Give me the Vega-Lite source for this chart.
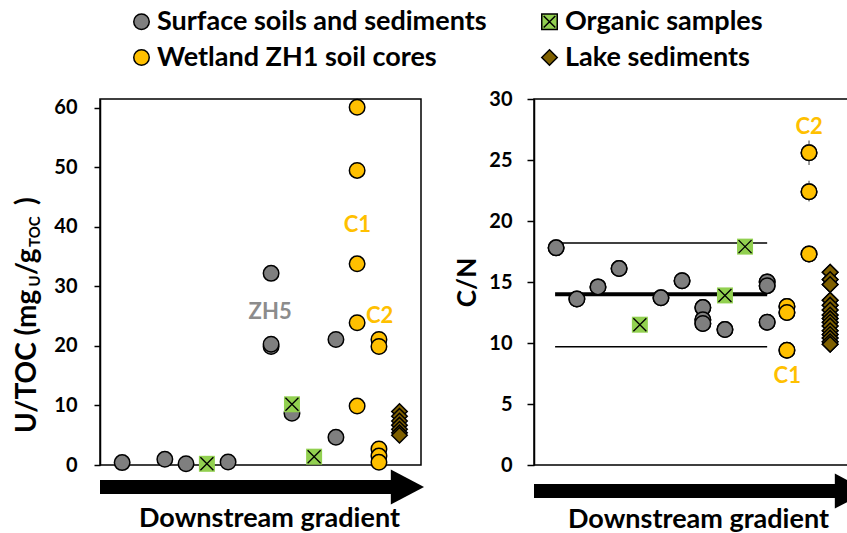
{
  "$schema": "https://vega.github.io/schema/vega-lite/v6.json",
  "padding": {"left": 13, "top": 8, "right": 0, "bottom": 0},
  "background": "white",
  "config": {
    "font": "Lato",
    "view": {"stroke": "black", "strokeWidth": 1.5},
    "axis": {"labelFont": "Lato", "labelFontWeight": "bold", "labelFontSize": 20, "labelColor": "black", "titleFont": "Lato", "titleFontWeight": "bold", "titleColor": "black", "grid": false, "domainColor": "black", "tickColor": "black", "domainWidth": 1.5, "tickWidth": 1.5}
  },
  "datasets": {
    "u": [
      {"pos": 6.9, "val": 0.4, "grp": "Surface soils and sediments"},
      {"pos": 20.2, "val": 0.95, "grp": "Surface soils and sediments"},
      {"pos": 26.8, "val": 0.2, "grp": "Surface soils and sediments"},
      {"pos": 39.9, "val": 0.5, "grp": "Surface soils and sediments"},
      {"pos": 53.3, "val": 32.2, "grp": "Surface soils and sediments"},
      {"pos": 53.3, "val": 19.9, "grp": "Surface soils and sediments"},
      {"pos": 53.3, "val": 20.3, "grp": "Surface soils and sediments"},
      {"pos": 59.8, "val": 8.7, "grp": "Surface soils and sediments"},
      {"pos": 73.5, "val": 21.1, "grp": "Surface soils and sediments"},
      {"pos": 73.5, "val": 4.65, "grp": "Surface soils and sediments"},
      {"pos": 33.3, "val": 0.2, "grp": "Organic samples"},
      {"pos": 59.8, "val": 10.2, "grp": "Organic samples"},
      {"pos": 66.7, "val": 1.4, "grp": "Organic samples"},
      {"pos": 80.1, "val": 60.1, "grp": "Wetland ZH1 soil cores"},
      {"pos": 80.1, "val": 49.5, "grp": "Wetland ZH1 soil cores"},
      {"pos": 80.1, "val": 33.8, "grp": "Wetland ZH1 soil cores"},
      {"pos": 80.1, "val": 23.9, "grp": "Wetland ZH1 soil cores"},
      {"pos": 80.1, "val": 9.9, "grp": "Wetland ZH1 soil cores"},
      {"pos": 86.9, "val": 21.1, "grp": "Wetland ZH1 soil cores"},
      {"pos": 86.9, "val": 19.9, "grp": "Wetland ZH1 soil cores"},
      {"pos": 86.9, "val": 2.7, "grp": "Wetland ZH1 soil cores"},
      {"pos": 86.9, "val": 1.5, "grp": "Wetland ZH1 soil cores"},
      {"pos": 86.9, "val": 0.45, "grp": "Wetland ZH1 soil cores"},
      {"pos": 93.3, "val": 9.0, "grp": "Lake sediments"},
      {"pos": 93.3, "val": 8.2, "grp": "Lake sediments"},
      {"pos": 93.3, "val": 7.4, "grp": "Lake sediments"},
      {"pos": 93.3, "val": 6.7, "grp": "Lake sediments"},
      {"pos": 93.3, "val": 6.0, "grp": "Lake sediments"},
      {"pos": 93.3, "val": 5.4, "grp": "Lake sediments"},
      {"pos": 93.3, "val": 5.0, "grp": "Lake sediments"}
    ],
    "ulab": [
      {"lab": "ZH5", "pos": 53.0, "val": 25.7},
      {"lab": "C1", "pos": 80.2, "val": 40.3},
      {"lab": "C2", "pos": 87.1, "val": 25.1}
    ],
    "cn": [
      {"pos": 6.6, "val": 17.8, "grp": "Surface soils and sediments"},
      {"pos": 12.8, "val": 13.6, "grp": "Surface soils and sediments"},
      {"pos": 19.1, "val": 14.6, "grp": "Surface soils and sediments"},
      {"pos": 25.4, "val": 16.1, "grp": "Surface soils and sediments"},
      {"pos": 37.9, "val": 13.7, "grp": "Surface soils and sediments"},
      {"pos": 44.2, "val": 15.1, "grp": "Surface soils and sediments"},
      {"pos": 50.4, "val": 12.9, "grp": "Surface soils and sediments"},
      {"pos": 50.4, "val": 11.9, "grp": "Surface soils and sediments"},
      {"pos": 50.4, "val": 11.6, "grp": "Surface soils and sediments"},
      {"pos": 57.0, "val": 11.1, "grp": "Surface soils and sediments"},
      {"pos": 69.6, "val": 15.0, "grp": "Surface soils and sediments"},
      {"pos": 69.6, "val": 14.7, "grp": "Surface soils and sediments"},
      {"pos": 69.6, "val": 11.7, "grp": "Surface soils and sediments"},
      {"pos": 31.6, "val": 11.5, "grp": "Organic samples"},
      {"pos": 57.0, "val": 13.9, "grp": "Organic samples"},
      {"pos": 63.0, "val": 17.9, "grp": "Organic samples"},
      {"pos": 75.5, "val": 13.0, "grp": "Wetland ZH1 soil cores"},
      {"pos": 75.5, "val": 12.5, "grp": "Wetland ZH1 soil cores"},
      {"pos": 75.5, "val": 9.4, "grp": "Wetland ZH1 soil cores"},
      {"pos": 82.1, "val": 25.6, "lo": 24.6, "hi": 26.6, "grp": "Wetland ZH1 soil cores"},
      {"pos": 82.1, "val": 22.4, "lo": 21.6, "hi": 23.3, "grp": "Wetland ZH1 soil cores"},
      {"pos": 82.1, "val": 17.3, "grp": "Wetland ZH1 soil cores"},
      {"pos": 88.4, "val": 15.8, "grp": "Lake sediments"},
      {"pos": 88.4, "val": 15.2, "grp": "Lake sediments"},
      {"pos": 88.4, "val": 14.8, "grp": "Lake sediments"},
      {"pos": 88.4, "val": 13.5, "grp": "Lake sediments"},
      {"pos": 88.4, "val": 13.1, "grp": "Lake sediments"},
      {"pos": 88.4, "val": 12.7, "grp": "Lake sediments"},
      {"pos": 88.4, "val": 12.3, "grp": "Lake sediments"},
      {"pos": 88.4, "val": 12.0, "grp": "Lake sediments"},
      {"pos": 88.4, "val": 11.7, "grp": "Lake sediments"},
      {"pos": 88.4, "val": 11.4, "grp": "Lake sediments"},
      {"pos": 88.4, "val": 11.0, "grp": "Lake sediments"},
      {"pos": 88.4, "val": 10.7, "grp": "Lake sediments"},
      {"pos": 88.4, "val": 10.4, "grp": "Lake sediments"},
      {"pos": 88.4, "val": 10.1, "grp": "Lake sediments"},
      {"pos": 88.4, "val": 9.9, "grp": "Lake sediments"}
    ],
    "cnlab": [
      {"lab": "C2", "pos": 82.1, "val": 27.7},
      {"lab": "C1", "pos": 75.6, "val": 7.3}
    ],
    "cnlines": [
      {"lo": 6.3, "hi": 69.6, "val": 18.2, "kind": "sd"},
      {"lo": 6.3, "hi": 69.6, "val": 9.7, "kind": "sd"},
      {"lo": 6.3, "hi": 69.6, "val": 14.0, "kind": "mean"}
    ]
  },
  "spacing": 113,
  "bounds": "flush",
  "resolve": {"scale": {"fill": "shared", "shape": "shared"}},
  "hconcat": [
    {
      "width": 321,
      "height": 366,
      "layer": [
        {
          "data": {"name": "u"},
          "transform": [{"filter": "datum.grp !== 'Organic samples'"}],
          "mark": {"type": "point", "filled": true, "size": 240, "stroke": "black", "strokeWidth": 1.5, "opacity": 1},
          "encoding": {
            "x": {"field": "pos", "type": "quantitative", "scale": {"domain": [0, 100]},
              "axis": {"title": "Downstream gradient", "labels": false, "ticks": false, "domain": false, "titleFontSize": 27, "titlePadding": 40, "titleX": 169}},
            "y": {"field": "val", "type": "quantitative", "scale": {"domain": [0, 61.5], "nice": false, "zero": false},
              "axis": {"title": null, "values": [0, 5, 10, 15, 20, 25, 30, 35, 40, 45, 50, 55, 60], "labelExpr": "datum.value % 10 === 0 ? datum.label : ''", "tickSize": 6, "labelPadding": 17}},
            "fill": {"field": "grp", "type": "nominal",
              "scale": {"domain": ["Surface soils and sediments", "Wetland ZH1 soil cores", "Organic samples", "Lake sediments"], "range": ["#7F7F7F", "#FFC000", "#92D050", "#7F6000"]},
              "legend": {"title": null, "orient": "none", "legendX": 28, "legendY": -91, "columns": 2, "symbolSize": 240, "labelFont": "Lato", "labelFontSize": 27, "labelFontWeight": "bold", "labelColor": "black", "labelOffset": 2, "rowPadding": 8, "columnPadding": 49, "labelLimit": 600, "padding": 0,
                "encode": {"symbols": {"update": {"stroke": {"value": "black"}, "strokeWidth": {"value": 1.5}}}}}},
            "shape": {"field": "grp", "type": "nominal",
              "scale": {"domain": ["Surface soils and sediments", "Wetland ZH1 soil cores", "Organic samples", "Lake sediments"], "range": ["circle", "circle", "M-1,-1H1V1H-1Z M-0.75,-0.75L0.75,0.75 M0.75,-0.75L-0.75,0.75", "diamond"]},
              "legend": {"title": null, "orient": "none", "legendX": 28, "legendY": -91, "columns": 2, "symbolSize": 240, "labelFont": "Lato", "labelFontSize": 27, "labelFontWeight": "bold", "labelColor": "black", "labelOffset": 2, "rowPadding": 8, "columnPadding": 49, "labelLimit": 600, "padding": 0,
                "encode": {"symbols": {"update": {"stroke": {"value": "black"}, "strokeWidth": {"value": 1.5}}}}}}
          }
        },
        {
          "data": {"values": [{}]},
          "mark": {"type": "rule", "strokeWidth": 14, "color": "black", "strokeCap": "butt"},
          "encoding": {
            "x": {"datum": 0, "type": "quantitative", "scale": {"domain": [0, 100]}},
            "x2": {"datum": 91.3},
            "y": {"datum": -3.7, "type": "quantitative", "scale": {"domain": [0, 61.5], "nice": false, "zero": false}}
          }
        },
        {
          "data": {"values": [{}]},
          "mark": {"type": "point", "shape": "M-0.9,-1L1,0L-0.9,1Z", "size": 1225, "filled": true, "color": "black", "opacity": 1, "strokeWidth": 0},
          "encoding": {
            "x": {"datum": 95.5, "type": "quantitative", "scale": {"domain": [0, 100]}},
            "y": {"datum": -3.7, "type": "quantitative", "scale": {"domain": [0, 61.5], "nice": false, "zero": false}}
          }
        },
        {
          "data": {"name": "u"},
          "transform": [{"filter": "datum.grp === 'Organic samples'"}],
          "mark": {"type": "point", "shape": "square", "filled": true, "size": 256, "color": "#92D050", "strokeWidth": 0, "opacity": 1},
          "encoding": {
            "x": {"field": "pos", "type": "quantitative", "scale": {"domain": [0, 100]}},
            "y": {"field": "val", "type": "quantitative", "scale": {"domain": [0, 61.5], "nice": false, "zero": false}}
          }
        },
        {
          "data": {"name": "u"},
          "transform": [{"filter": "datum.grp === 'Organic samples'"}],
          "mark": {"type": "point", "shape": "M-1,-1L1,1M1,-1L-1,1", "filled": false, "size": 169, "color": "black", "strokeWidth": 1.3, "opacity": 1},
          "encoding": {
            "x": {"field": "pos", "type": "quantitative", "scale": {"domain": [0, 100]}},
            "y": {"field": "val", "type": "quantitative", "scale": {"domain": [0, 61.5], "nice": false, "zero": false}}
          }
        },
        {
          "data": {"name": "ulab"},
          "transform": [{"filter": "datum.lab === 'ZH5'"}],
          "mark": {"type": "text", "font": "Lato", "fontWeight": "bold", "fontSize": 22, "color": "#8C8C8C", "align": "center", "baseline": "middle"},
          "encoding": {
            "x": {"field": "pos", "type": "quantitative", "scale": {"domain": [0, 100]}},
            "y": {"field": "val", "type": "quantitative", "scale": {"domain": [0, 61.5], "nice": false, "zero": false}},
            "text": {"field": "lab"}
          }
        },
        {
          "data": {"name": "ulab"},
          "transform": [{"filter": "datum.lab !== 'ZH5'"}],
          "mark": {"type": "text", "font": "Lato", "fontWeight": "bold", "fontSize": 22, "color": "#FFC000", "align": "center", "baseline": "middle"},
          "encoding": {
            "x": {"field": "pos", "type": "quantitative", "scale": {"domain": [0, 100]}},
            "y": {"field": "val", "type": "quantitative", "scale": {"domain": [0, 61.5], "nice": false, "zero": false}},
            "text": {"field": "lab"}
          }
        },
        {
          "data": {"values": [{}]},
          "mark": {"type": "text", "text": "U/TOC (mg", "angle": 270, "align": "left", "baseline": "alphabetic", "font": "Lato", "fontWeight": "bold", "fontSize": 28, "color": "black"},
          "encoding": {
            "x": {"datum": -19.9, "type": "quantitative", "scale": {"domain": [0, 100]}},
            "y": {"datum": 5.38, "type": "quantitative", "scale": {"domain": [0, 61.5], "nice": false, "zero": false}}
          }
        },
        {
          "data": {"values": [{}]},
          "mark": {"type": "text", "text": "U", "angle": 270, "align": "left", "baseline": "alphabetic", "font": "Lato", "fontWeight": "bold", "fontSize": 15, "color": "black"},
          "encoding": {
            "x": {"datum": -18.7, "type": "quantitative", "scale": {"domain": [0, 100]}},
            "y": {"datum": 30.0, "type": "quantitative", "scale": {"domain": [0, 61.5], "nice": false, "zero": false}}
          }
        },
        {
          "data": {"values": [{}]},
          "mark": {"type": "text", "text": "/g", "angle": 270, "align": "left", "baseline": "alphabetic", "font": "Lato", "fontWeight": "bold", "fontSize": 28, "color": "black"},
          "encoding": {
            "x": {"datum": -19.9, "type": "quantitative", "scale": {"domain": [0, 100]}},
            "y": {"datum": 31.93, "type": "quantitative", "scale": {"domain": [0, 61.5], "nice": false, "zero": false}}
          }
        },
        {
          "data": {"values": [{}]},
          "mark": {"type": "text", "text": "TOC", "angle": 270, "align": "left", "baseline": "alphabetic", "font": "Lato", "fontWeight": "bold", "fontSize": 15, "color": "black"},
          "encoding": {
            "x": {"datum": -18.7, "type": "quantitative", "scale": {"domain": [0, 100]}},
            "y": {"datum": 36.63, "type": "quantitative", "scale": {"domain": [0, 61.5], "nice": false, "zero": false}}
          }
        },
        {
          "data": {"values": [{}]},
          "mark": {"type": "text", "text": " )", "angle": 270, "align": "left", "baseline": "alphabetic", "font": "Lato", "fontWeight": "bold", "fontSize": 28, "color": "black"},
          "encoding": {
            "x": {"datum": -19.9, "type": "quantitative", "scale": {"domain": [0, 100]}},
            "y": {"datum": 43.69, "type": "quantitative", "scale": {"domain": [0, 61.5], "nice": false, "zero": false}}
          }
        }
      ]
    },
    {
      "width": 335,
      "height": 366,
      "layer": [
        {
          "data": {"name": "cn"},
          "transform": [{"filter": "datum.grp !== 'Organic samples'"}],
          "mark": {"type": "point", "filled": true, "size": 240, "stroke": "black", "strokeWidth": 1.5, "opacity": 1},
          "encoding": {
            "x": {"field": "pos", "type": "quantitative", "scale": {"domain": [0, 100]},
              "axis": {"title": "Downstream gradient", "labels": false, "ticks": false, "domain": false, "titleFontSize": 27, "titlePadding": 41, "titleX": 164}},
            "y": {"field": "val", "type": "quantitative", "scale": {"domain": [0, 30], "nice": false, "zero": false},
              "axis": {"title": "C/N", "titleFontSize": 26, "titlePadding": 8, "values": [0, 5, 10, 15, 20, 25, 30], "tickSize": 7, "labelPadding": 15}},
            "fill": {"field": "grp", "type": "nominal",
              "scale": {"domain": ["Surface soils and sediments", "Wetland ZH1 soil cores", "Organic samples", "Lake sediments"], "range": ["#7F7F7F", "#FFC000", "#92D050", "#7F6000"]},
              "legend": {"title": null, "orient": "none", "legendX": 28, "legendY": -91, "columns": 2, "symbolSize": 240, "labelFont": "Lato", "labelFontSize": 27, "labelFontWeight": "bold", "labelColor": "black", "labelOffset": 2, "rowPadding": 8, "columnPadding": 49, "labelLimit": 600, "padding": 0,
                "encode": {"symbols": {"update": {"stroke": {"value": "black"}, "strokeWidth": {"value": 1.5}}}}}},
            "shape": {"field": "grp", "type": "nominal",
              "scale": {"domain": ["Surface soils and sediments", "Wetland ZH1 soil cores", "Organic samples", "Lake sediments"], "range": ["circle", "circle", "M-1,-1H1V1H-1Z M-0.75,-0.75L0.75,0.75 M0.75,-0.75L-0.75,0.75", "diamond"]},
              "legend": {"title": null, "orient": "none", "legendX": 28, "legendY": -91, "columns": 2, "symbolSize": 240, "labelFont": "Lato", "labelFontSize": 27, "labelFontWeight": "bold", "labelColor": "black", "labelOffset": 2, "rowPadding": 8, "columnPadding": 49, "labelLimit": 600, "padding": 0,
                "encode": {"symbols": {"update": {"stroke": {"value": "black"}, "strokeWidth": {"value": 1.5}}}}}}
          }
        },
        {
          "data": {"values": [{}]},
          "mark": {"type": "rule", "strokeWidth": 14, "color": "black", "strokeCap": "butt"},
          "encoding": {
            "x": {"datum": 0, "type": "quantitative", "scale": {"domain": [0, 100]}},
            "x2": {"datum": 90},
            "y": {"datum": -2.14, "type": "quantitative", "scale": {"domain": [0, 30], "nice": false, "zero": false}}
          }
        },
        {
          "data": {"values": [{}]},
          "mark": {"type": "point", "shape": "M-0.9,-1L1,0L-0.9,1Z", "size": 1225, "filled": true, "color": "black", "opacity": 1, "strokeWidth": 0},
          "encoding": {
            "x": {"datum": 94.5, "type": "quantitative", "scale": {"domain": [0, 100]}},
            "y": {"datum": -2.14, "type": "quantitative", "scale": {"domain": [0, 30], "nice": false, "zero": false}}
          }
        },
        {
          "data": {"name": "cnlines"},
          "transform": [{"filter": "datum.kind === 'sd'"}],
          "mark": {"type": "rule", "strokeWidth": 1.5, "color": "black"},
          "encoding": {
            "x": {"field": "lo", "type": "quantitative", "scale": {"domain": [0, 100]}},
            "x2": {"field": "hi"},
            "y": {"field": "val", "type": "quantitative", "scale": {"domain": [0, 30], "nice": false, "zero": false}}
          }
        },
        {
          "data": {"name": "cnlines"},
          "transform": [{"filter": "datum.kind === 'mean'"}],
          "mark": {"type": "rule", "strokeWidth": 4, "color": "black"},
          "encoding": {
            "x": {"field": "lo", "type": "quantitative", "scale": {"domain": [0, 100]}},
            "x2": {"field": "hi"},
            "y": {"field": "val", "type": "quantitative", "scale": {"domain": [0, 30], "nice": false, "zero": false}}
          }
        },
        {
          "data": {"name": "cn"},
          "transform": [{"filter": "isValid(datum.lo)"}],
          "mark": {"type": "rule", "strokeWidth": 1.5, "color": "#7F7F7F"},
          "encoding": {
            "x": {"field": "pos", "type": "quantitative", "scale": {"domain": [0, 100]}},
            "y": {"field": "lo", "type": "quantitative", "scale": {"domain": [0, 30], "nice": false, "zero": false}},
            "y2": {"field": "hi"}
          }
        },
        {
          "data": {"name": "cn"},
          "transform": [{"filter": "datum.grp !== 'Organic samples'"}],
          "mark": {"type": "point", "filled": true, "size": 240, "stroke": "black", "strokeWidth": 1.5, "opacity": 1},
          "encoding": {
            "x": {"field": "pos", "type": "quantitative", "scale": {"domain": [0, 100]}},
            "y": {"field": "val", "type": "quantitative", "scale": {"domain": [0, 30], "nice": false, "zero": false}},
            "fill": {"field": "grp", "type": "nominal"},
            "shape": {"field": "grp", "type": "nominal"}
          }
        },
        {
          "data": {"name": "cn"},
          "transform": [{"filter": "datum.grp === 'Organic samples'"}],
          "mark": {"type": "point", "shape": "square", "filled": true, "size": 256, "color": "#92D050", "strokeWidth": 0, "opacity": 1},
          "encoding": {
            "x": {"field": "pos", "type": "quantitative", "scale": {"domain": [0, 100]}},
            "y": {"field": "val", "type": "quantitative", "scale": {"domain": [0, 30], "nice": false, "zero": false}}
          }
        },
        {
          "data": {"name": "cn"},
          "transform": [{"filter": "datum.grp === 'Organic samples'"}],
          "mark": {"type": "point", "shape": "M-1,-1L1,1M1,-1L-1,1", "filled": false, "size": 169, "color": "black", "strokeWidth": 1.3, "opacity": 1},
          "encoding": {
            "x": {"field": "pos", "type": "quantitative", "scale": {"domain": [0, 100]}},
            "y": {"field": "val", "type": "quantitative", "scale": {"domain": [0, 30], "nice": false, "zero": false}}
          }
        },
        {
          "data": {"name": "cnlab"},
          "mark": {"type": "text", "font": "Lato", "fontWeight": "bold", "fontSize": 22, "color": "#FFC000", "align": "center", "baseline": "middle"},
          "encoding": {
            "x": {"field": "pos", "type": "quantitative", "scale": {"domain": [0, 100]}},
            "y": {"field": "val", "type": "quantitative", "scale": {"domain": [0, 30], "nice": false, "zero": false}},
            "text": {"field": "lab"}
          }
        }
      ]
    }
  ]
}
